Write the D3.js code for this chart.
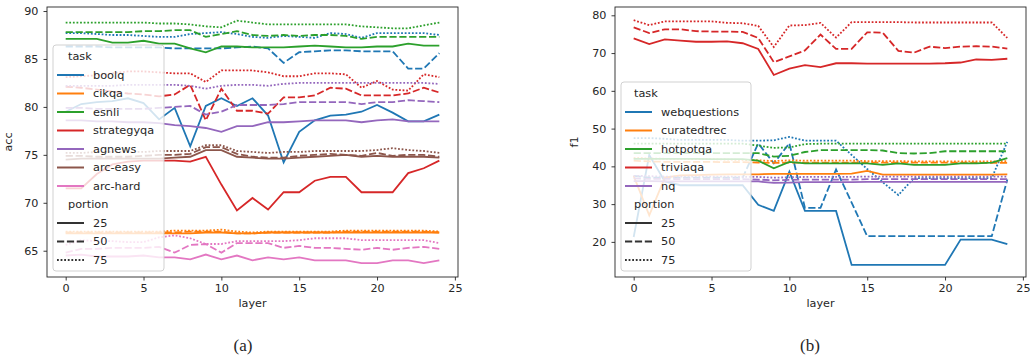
<!DOCTYPE html>
<html><head><meta charset="utf-8">
<script src="https://cdn.jsdelivr.net/npm/d3@7"></script>
<style>
body{margin:0;background:#fff;}
svg text{font-family:"DejaVu Sans",sans-serif;fill:#262626;}
</style></head>
<body><svg id="c" width="1030" height="358"></svg>
<script>
// ---------- data ----------
const layers = [0,1,2,3,4,5,6,7,8,9,10,11,12,13,14,15,16,17,18,19,20,21,22,23,24];
const portions = ["25","50","75"];
const xTicks = [0,5,10,15,20,25];
const accTicks = [65,70,75,80,85,90];
const f1Ticks = [20,30,40,50,60,70,80];

// panel (a): acc
const tasksA = ["boolq","cikqa","esnli","strategyqa","agnews","arc-easy","arc-hard"];
const boolq25 = [79.5,80.3,80.5,80.6,80.9,80.4,78.7,79.9,75.9,80.1,80.9,80.1,80.9,79.1,74.2,77.4,78.6,79.1,79.2,79.5,80.2,79.4,78.5,78.5,79.2];
const boolq50 = [86.3,86.3,86.3,86.2,86.2,86.2,86.2,86.1,86.1,86.1,86.1,86.2,86.3,86.1,84.6,85.7,85.8,85.9,85.9,85.8,85.8,85.8,84.0,84.0,85.6];
const boolq75 = [87.7,87.7,87.6,87.5,87.5,87.4,87.3,87.3,87.6,87.7,87.8,87.6,87.3,87.2,87.4,87.3,87.2,87.7,87.6,87.2,87.7,87.7,87.7,87.7,87.5];
const cikqa25 = [66.8,66.8,66.8,66.8,66.8,66.8,66.8,66.8,66.8,66.9,66.9,66.8,66.8,66.9,66.9,66.9,66.9,66.9,66.9,66.9,66.9,66.9,66.9,66.9,66.9];
const cikqa50 = [66.9,66.9,66.9,66.9,66.9,66.9,66.9,66.9,67.0,67.0,67.0,66.8,66.8,66.9,66.9,66.9,66.9,66.9,67.0,67.0,67.0,67.0,67.0,67.0,66.9];
const cikqa75 = [67.0,67.0,67.0,67.0,67.0,67.0,67.0,67.1,67.1,67.1,67.2,67.0,66.9,67.0,67.0,67.0,67.0,67.0,67.1,67.1,67.1,67.1,67.1,67.1,67.0];
const esnli25 = [87.1,87.1,87.1,86.7,86.7,86.9,86.6,86.6,86.1,85.7,86.3,86.3,86.2,86.2,86.2,86.3,86.4,86.3,86.2,86.2,86.3,86.3,86.6,86.4,86.4];
const esnli50 = [87.8,87.8,87.8,87.8,87.8,87.9,87.9,88.0,88.0,87.3,87.6,87.9,87.5,87.4,87.5,87.4,87.5,87.5,87.4,87.1,87.3,87.3,87.3,87.3,87.3];
const esnli75 = [88.8,88.8,88.8,88.8,88.8,88.8,88.7,88.7,88.6,88.4,88.3,89.0,88.8,88.6,88.6,88.6,88.6,88.6,88.6,88.4,88.3,88.2,88.2,88.5,88.8];
const strategyqa25 = [71.5,71.5,73.0,74.0,74.3,74.4,74.4,74.4,74.3,74.8,71.9,69.2,70.5,69.3,71.1,71.1,72.3,72.7,72.7,71.1,71.1,71.1,73.1,73.6,74.4];
const strategyqa50 = [82.1,82.0,81.8,81.6,81.4,81.3,81.1,81.3,82.3,78.6,81.9,79.6,79.6,79.3,81.0,81.0,81.2,82.0,81.9,81.2,81.2,81.2,81.4,82.0,81.5];
const strategyqa75 = [83.1,83.2,83.3,83.5,83.7,83.7,83.6,83.5,83.5,82.6,83.8,83.8,83.8,83.6,83.2,83.2,83.5,83.5,83.4,82.0,82.7,81.8,81.7,83.4,83.1];
const agnews25 = [78.6,78.6,78.5,78.5,78.4,78.4,78.3,78.1,78.0,77.8,77.4,78.0,78.0,78.4,78.4,78.5,78.6,78.6,78.6,78.4,78.6,78.7,78.5,78.5,78.5];
const agnews50 = [79.9,79.9,79.8,79.8,79.8,79.8,79.9,80.0,80.1,79.2,79.5,80.2,80.2,80.2,80.3,80.5,80.5,80.5,80.5,80.3,80.5,80.5,80.7,80.6,80.5];
const agnews75 = [82.2,82.2,82.2,82.2,82.3,82.3,82.3,82.3,82.2,81.9,82.2,82.3,82.3,82.2,82.4,82.5,82.5,82.5,82.5,82.5,82.5,82.5,82.5,82.5,82.4];
const arcEasy25 = [74.5,74.6,74.6,74.6,74.6,74.6,74.6,74.7,74.8,75.5,75.5,74.8,74.7,74.6,74.6,74.7,74.8,74.9,75.0,74.8,74.9,74.8,74.8,74.8,74.7];
const arcEasy50 = [74.9,74.9,74.8,74.8,74.8,74.9,75.0,75.0,75.1,75.8,75.8,75.1,74.8,74.7,74.7,74.9,75.0,75.1,75.0,74.9,75.2,74.9,75.0,75.0,74.8];
const arcEasy75 = [75.2,75.2,75.3,75.3,75.3,75.3,75.4,75.4,75.4,76.0,76.0,75.4,75.3,75.2,75.3,75.3,75.4,75.4,75.4,75.4,75.5,75.7,75.5,75.4,75.2];
const arcHard25 = [64.5,64.6,64.4,64.4,64.4,64.5,64.3,64.3,64.1,64.6,64.1,64.5,64.0,64.3,64.1,64.3,64.0,64.0,64.0,63.7,63.7,64.0,64.0,63.7,64.0];
const arcHard50 = [64.8,65.2,65.2,65.3,65.3,65.3,65.4,64.8,65.6,65.7,64.8,65.8,65.8,65.8,65.3,65.5,65.3,65.3,65.2,65.1,65.3,65.1,65.3,65.4,65.2];
const arcHard75 = [65.6,66.1,66.0,66.0,65.9,65.9,66.4,66.6,66.3,65.7,65.7,66.0,66.0,66.0,66.0,66.1,66.3,66.3,66.3,66.1,66.1,66.1,66.1,66.1,65.8];

// panel (b): f1
const tasksB = ["webquestions","curatedtrec","hotpotqa","triviaqa","nq"];
const webq25 = [21.3,43.0,36.0,35.0,35.0,35.0,35.0,35.0,29.8,28.2,38.6,28.2,28.2,28.2,13.9,13.9,13.9,13.9,13.9,13.9,13.9,20.6,20.6,20.6,19.4];
const webq50 = [37.5,37.0,37.0,37.0,37.0,37.0,37.0,37.0,46.1,40.8,46.1,29.0,29.0,39.2,30.4,21.5,21.5,21.5,21.5,21.5,21.5,21.5,21.5,21.5,36.5];
const webq75 = [47.5,47.5,47.3,47.0,47.0,47.0,47.0,46.8,46.8,46.9,47.8,46.8,46.8,46.8,43.0,39.3,35.8,32.4,36.9,36.9,36.9,36.9,36.9,36.9,46.5];
const curated25 = [37.5,27.0,37.0,37.6,37.7,37.8,37.9,37.9,37.9,38.0,38.0,38.0,38.0,38.0,38.1,38.8,37.8,37.8,37.8,37.8,37.8,37.8,37.8,37.8,37.9];
const curated50 = [41.5,41.3,41.2,41.2,41.2,41.2,41.1,41.1,41.0,40.9,41.0,41.0,41.0,41.0,41.0,41.0,41.0,41.0,41.0,41.0,41.0,41.0,41.0,40.9,40.9];
const curated75 = [42.2,42.1,42.0,42.0,41.9,41.9,41.8,41.7,41.6,41.4,41.6,41.5,41.5,41.5,41.5,41.4,41.4,41.4,41.3,41.3,41.3,41.3,41.3,41.3,41.4];
const hotpot25 = [42.0,42.0,42.0,42.0,42.0,41.9,41.9,41.9,41.5,39.5,41.2,40.8,40.8,40.8,40.8,40.8,40.4,40.8,40.4,40.4,40.4,40.8,40.8,41.0,42.2];
const hotpot50 = [43.5,43.5,43.5,43.5,43.5,43.5,43.5,43.5,43.5,42.6,42.8,43.8,44.3,44.3,44.3,44.3,44.2,43.5,43.4,43.5,44.0,44.0,44.0,44.0,44.0];
const hotpot75 = [46.0,46.0,46.0,46.0,46.0,46.0,46.0,46.0,45.5,44.9,45.0,45.9,46.0,46.0,46.0,46.0,46.0,46.0,46.0,46.0,46.0,46.0,46.0,46.0,46.0];
const trivia25 = [73.9,72.4,73.6,73.3,73.0,73.0,73.1,72.6,71.1,64.2,65.9,66.8,66.3,67.3,67.3,67.2,67.2,67.2,67.2,67.2,67.3,67.5,68.3,68.2,68.5];
const trivia50 = [76.8,75.3,76.3,76.3,75.8,75.7,75.7,75.6,74.0,67.6,69.1,70.7,74.9,71.1,71.1,75.5,75.4,70.6,70.1,71.7,71.3,71.7,71.8,71.7,71.2];
const trivia75 = [78.7,77.4,78.4,78.4,78.4,78.4,78.0,77.9,77.2,71.6,77.3,77.4,78.0,74.1,78.2,78.2,78.2,78.2,78.1,78.1,78.1,78.1,78.1,78.1,74.0];
const nq25 = [36.1,36.1,36.0,36.0,36.0,36.0,36.0,36.0,36.0,35.6,35.7,35.8,35.8,35.8,35.8,35.9,35.9,35.9,35.9,35.9,35.9,35.9,35.9,35.9,35.9];
const nq50 = [36.8,36.7,36.7,36.6,36.6,36.6,36.6,36.6,36.5,36.3,36.4,36.5,36.5,36.5,36.5,36.6,36.6,36.6,36.6,36.6,36.6,36.6,36.6,36.6,36.6];
const nq75 = [37.5,37.4,37.3,37.3,37.3,37.3,37.3,37.2,37.2,37.0,37.1,37.2,37.2,37.2,37.2,37.3,37.3,37.3,37.3,37.3,37.3,37.3,37.3,37.3,37.3];

const seriesA = {
  "boolq":[boolq25,boolq50,boolq75], "cikqa":[cikqa25,cikqa50,cikqa75],
  "esnli":[esnli25,esnli50,esnli75], "strategyqa":[strategyqa25,strategyqa50,strategyqa75],
  "agnews":[agnews25,agnews50,agnews75], "arc-easy":[arcEasy25,arcEasy50,arcEasy75],
  "arc-hard":[arcHard25,arcHard50,arcHard75]
};
const seriesB = {
  "webquestions":[webq25,webq50,webq75], "curatedtrec":[curated25,curated50,curated75],
  "hotpotqa":[hotpot25,hotpot50,hotpot75], "triviaqa":[trivia25,trivia50,trivia75],
  "nq":[nq25,nq50,nq75]
};

// ---------- drawing ----------
const palette = ["#1f77b4","#ff7f0e","#2ca02c","#d62728","#9467bd","#8c564b","#e377c2"];
const LW = 1.8;
const dashes = [null, `${4*LW},${1.5*LW}`, `${LW},${LW}`];
const svg = d3.select("#c");

function panel(cfg){
  const {x0,x1,y0,y1,yDomain,yTicks,tasks,series,ylabel,caption,legend} = cfg;
  const x = d3.scaleLinear().domain([-1.2,25.2]).range([x0,x1]);
  const y = d3.scaleLinear().domain(yDomain).range([y1,y0]);
  const g = svg.append("g");
  const color = d3.scaleOrdinal().domain(tasks).range(palette);
  const line = d3.line().x((d,i)=>x(layers[i])).y(d=>y(d));
  tasks.forEach(t=>{
    series[t].forEach((vals,pi)=>{
      g.append("path").attr("d",line(vals)).attr("fill","none")
        .attr("stroke",color(t)).attr("stroke-width",LW)
        .attr("stroke-dasharray",dashes[pi]);
    });
  });
  // axes
  const ax = g.append("g").attr("transform",`translate(0,${y1})`)
    .call(d3.axisBottom(x).tickValues(xTicks).tickSize(3.5).tickPadding(4).tickFormat(d3.format("d")));
  const ay = g.append("g").attr("transform",`translate(${x0},0)`)
    .call(d3.axisLeft(y).tickValues(yTicks).tickSize(3.5).tickPadding(5).tickFormat(d3.format("d")));
  [ax,ay].forEach(a=>{
    a.select(".domain").remove();
    a.selectAll("line").attr("stroke","#262626").attr("stroke-width",0.9);
    a.selectAll("text").attr("font-size",11.2).attr("font-family","DejaVu Sans").attr("fill","#262626");
  });
  g.append("rect").attr("x",x0).attr("y",y0).attr("width",x1-x0).attr("height",y1-y0)
    .attr("fill","none").attr("stroke","#262626").attr("stroke-width",0.9);
  g.append("text").attr("x",(x0+x1)/2).attr("y",307).attr("text-anchor","middle").attr("font-size",11.2).text("layer");
  g.append("text").attr("transform",`translate(${cfg.ylabelX},${(y0+y1)/2}) rotate(-90)`)
    .attr("text-anchor","middle").attr("font-size",11.2).text(ylabel);
  g.append("text").attr("x",cfg.capX).attr("y",351).attr("text-anchor","middle")
    .attr("font-size",17).style("font-family","'Liberation Serif','Times New Roman',serif").attr("fill","#000").text(caption);
  // legend
  const L = legend;
  const lg = g.append("g");
  lg.append("rect").attr("x",L.x).attr("y",L.y).attr("width",L.w).attr("height",L.h)
    .attr("rx",3).attr("fill","#fff").attr("fill-opacity",0.8).attr("stroke","#cccccc").attr("stroke-width",0.9);
  const step = 18.5;
  let cy = L.y + 11.5;
  const fs = 11.3;
  lg.append("text").attr("x",L.titleX).attr("y",cy).attr("dy","0.35em").attr("font-size",fs).text("task");
  tasks.forEach(t=>{
    cy += step;
    lg.append("line").attr("x1",L.hx).attr("x2",L.hx+27).attr("y1",cy).attr("y2",cy)
      .attr("stroke",color(t)).attr("stroke-width",LW+0.2);
    lg.append("text").attr("x",L.tx).attr("y",cy).attr("dy","0.35em").attr("font-size",fs).text(t);
  });
  cy += step;
  lg.append("text").attr("x",L.titleX).attr("y",cy).attr("dy","0.35em").attr("font-size",fs).text("portion");
  portions.forEach((p,pi)=>{
    cy += step;
    lg.append("line").attr("x1",L.hx).attr("x2",L.hx+27).attr("y1",cy).attr("y2",cy)
      .attr("stroke","#333").attr("stroke-width",LW+0.2).attr("stroke-dasharray",dashes[pi]);
    lg.append("text").attr("x",L.tx).attr("y",cy).attr("dy","0.35em").attr("font-size",fs).text(p);
  });
}

panel({x0:47,x1:458,y0:7,y1:277,yDomain:[62.26,90.42],yTicks:accTicks,tasks:tasksA,series:seriesA,
  ylabel:"acc",ylabelX:12,caption:"(a)",capX:243,
  legend:{x:53,y:45,w:111,h:226,hx:57,tx:93,titleX:68}});
panel({x0:615,x1:1026,y0:7,y1:277,yDomain:[10.7,82.2],yTicks:f1Ticks,tasks:tasksB,series:seriesB,
  ylabel:"f1",ylabelX:578,caption:"(b)",capX:810,
  legend:{x:621,y:82,w:130,h:189,hx:625,tx:661,titleX:634}});
</script></body></html>
